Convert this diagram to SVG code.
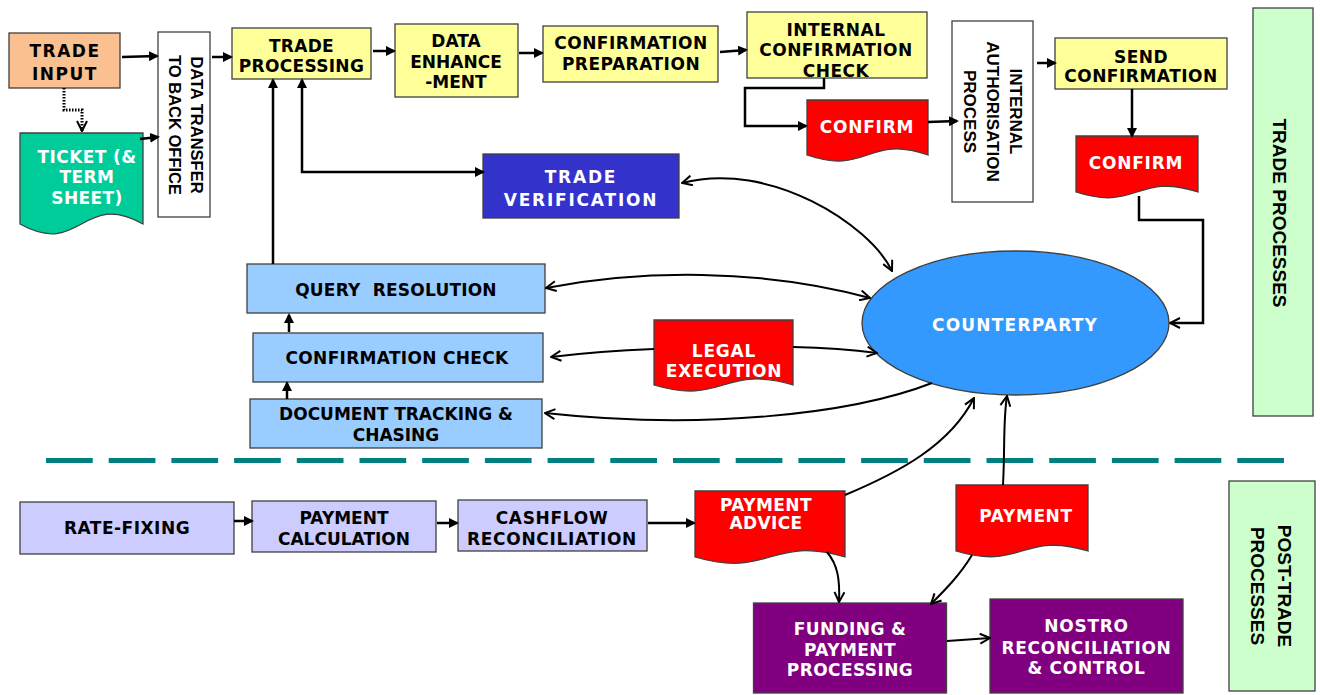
<svg xmlns="http://www.w3.org/2000/svg" width="1320" height="695" viewBox="0 0 1320 695">
<style>
.box{stroke:#404040;stroke-width:1.3}
.t{font-family:"DejaVu Sans",Verdana,sans-serif;font-weight:bold;font-size:17px;text-anchor:middle;fill:#000}
.w{fill:#fff}
.v{font-family:"Liberation Sans",Arial,sans-serif;font-weight:bold;text-anchor:middle;dominant-baseline:central;fill:#000}
.c{fill:none;stroke:#000;stroke-width:2.5}
.cv{fill:none;stroke:#000;stroke-width:2}
</style>
<defs>
<marker id="f" viewBox="0 0 10 10" refX="8" refY="5" markerWidth="10" markerHeight="10" markerUnits="userSpaceOnUse" orient="auto-start-reverse"><path d="M0,0 L10,5 L0,10 z" fill="#000"/></marker>
<marker id="o" viewBox="0 0 12 12" refX="11" refY="6" markerWidth="12" markerHeight="12" markerUnits="userSpaceOnUse" orient="auto-start-reverse"><path d="M1,1 L11,6 L1,11" fill="none" stroke="#000" stroke-width="2"/></marker>
</defs>
<rect width="1320" height="695" fill="#fff"/>

<g id="divider"><line x1="46" y1="460.5" x2="1284" y2="460.5" stroke="#008080" stroke-width="5" stroke-dasharray="46.7 16"/></g>

<g id="trade-input"><rect class="box" x="9" y="33" width="111" height="55" fill="#FAC08F"/>
<text class="t" x="65" y="57" font-size="21" letter-spacing="1.5">TRADE</text><text class="t" x="65" y="80" font-size="21" letter-spacing="1.5">INPUT</text></g>

<g id="ticket"><path class="box" d="M20,133 H143 V224 C81.5,190 81.5,258 20,224 Z" fill="#00CC99"/>
<text class="t w" x="87" y="163" letter-spacing="0.4">TICKET (&amp;</text><text class="t w" x="87" y="183" letter-spacing="0.4">TERM</text><text class="t w" x="87" y="204" letter-spacing="0.4">SHEET)</text></g>

<g id="data-transfer"><rect class="box" x="158" y="32" width="52" height="185" fill="#fff"/>
<text class="v" font-size="16.5" transform="translate(196.5,125) rotate(90)">DATA TRANSFER</text>
<text class="v" font-size="16.5" transform="translate(174.5,125) rotate(90)">TO BACK OFFICE</text></g>

<g id="trade-processing"><rect class="box" x="232" y="28" width="139" height="51" fill="#FFFF99"/>
<text class="t" x="301.5" y="52" letter-spacing="0.3">TRADE</text><text class="t" x="301.5" y="72" letter-spacing="0.3">PROCESSING</text></g>

<g id="data-enhancement"><rect class="box" x="395" y="24" width="123" height="73" fill="#FFFF99"/>
<text class="t" x="456" y="47">DATA</text><text class="t" x="456" y="68">ENHANCE</text><text class="t" x="456" y="88">-MENT</text></g>

<g id="confirmation-preparation"><rect class="box" x="543" y="26" width="175" height="56" fill="#FFFF99"/>
<text class="t" x="631" y="49" letter-spacing="0.5">CONFIRMATION</text><text class="t" x="631" y="70" letter-spacing="0.5">PREPARATION</text></g>

<g id="internal-confirmation-check"><rect class="box" x="747" y="12" width="180" height="66" fill="#FFFF99"/>
<text class="t" x="836" y="36" letter-spacing="0.5">INTERNAL</text><text class="t" x="836" y="56" letter-spacing="0.5">CONFIRMATION</text><text class="t" x="836" y="77" letter-spacing="0.5">CHECK</text></g>

<g id="confirm-1"><path class="box" d="M807,100 H928 V155 C867.5,134 867.5,176 807,155 Z" fill="#FF0000"/>
<text class="t w" x="867" y="133" letter-spacing="0.8">CONFIRM</text></g>

<g id="internal-authorisation"><rect class="box" x="952" y="21" width="81" height="181" fill="#fff"/>
<text class="v" font-size="17" transform="translate(1015,111.5) rotate(90)">INTERNAL</text>
<text class="v" font-size="17" transform="translate(992,111.5) rotate(90)">AUTHORISATION</text>
<text class="v" font-size="17" transform="translate(969.5,111.5) rotate(90)">PROCESS</text></g>

<g id="send-confirmation"><rect class="box" x="1055" y="38" width="172" height="51" fill="#FFFF99"/>
<text class="t" x="1141" y="63" letter-spacing="0.5">SEND</text><text class="t" x="1141" y="82" letter-spacing="0.5">CONFIRMATION</text></g>

<g id="confirm-2"><path class="box" d="M1076,136 H1198 V192 C1137,172 1137,212 1076,192 Z" fill="#FF0000"/>
<text class="t w" x="1136" y="169" letter-spacing="0.8">CONFIRM</text></g>

<g id="trade-processes-panel"><rect class="box" x="1253" y="8" width="60" height="408" fill="#CCFFCC"/>
<text class="v" font-size="19" transform="translate(1279,213) rotate(90)">TRADE PROCESSES</text></g>

<g id="trade-verification"><rect class="box" x="483" y="154" width="196" height="64" fill="#3333CC"/>
<text class="t w" x="581" y="183" letter-spacing="1.8">TRADE</text><text class="t w" x="581" y="206" letter-spacing="1.8">VERIFICATION</text></g>

<g id="query-resolution"><rect class="box" x="247" y="264" width="298" height="49" fill="#99CCFF"/>
<text class="t" x="396" y="296" letter-spacing="0.2" style="white-space:pre">QUERY  RESOLUTION</text></g>

<g id="confirmation-check"><rect class="box" x="253" y="333" width="290" height="49" fill="#99CCFF"/>
<text class="t" x="397" y="364" letter-spacing="0.3">CONFIRMATION CHECK</text></g>

<g id="document-tracking"><rect class="box" x="250" y="399" width="292" height="49" fill="#99CCFF"/>
<text class="t" x="396" y="420">DOCUMENT TRACKING &amp;</text><text class="t" x="396" y="441">CHASING</text></g>

<g id="legal-execution"><path class="box" d="M654,320 H793 V385 C723.5,364 723.5,406 654,385 Z" fill="#FF0000"/>
<text class="t w" x="724" y="357" font-size="16" letter-spacing="0.8">LEGAL</text><text class="t w" x="724" y="377" font-size="16" letter-spacing="0.8">EXECUTION</text></g>

<g id="counterparty"><ellipse class="box" cx="1015.5" cy="323" rx="153.5" ry="72" fill="#3399FF"/>
<text class="t w" x="1015" y="331" font-size="19" letter-spacing="1.2">COUNTERPARTY</text></g>

<g id="rate-fixing"><rect class="box" x="20" y="502" width="214" height="52" fill="#CCCCFF"/>
<text class="t" x="127" y="534" letter-spacing="0.5">RATE-FIXING</text></g>

<g id="payment-calculation"><rect class="box" x="252" y="501" width="184" height="51" fill="#CCCCFF"/>
<text class="t" x="344" y="524">PAYMENT</text><text class="t" x="344" y="545">CALCULATION</text></g>

<g id="cashflow-reconciliation"><rect class="box" x="458" y="500" width="189" height="51" fill="#CCCCFF"/>
<text class="t" x="552" y="524" letter-spacing="0.7">CASHFLOW</text><text class="t" x="552" y="545" letter-spacing="0.7">RECONCILIATION</text></g>

<g id="payment-advice"><path class="box" d="M695,491 H845 V557 C770,535 770,579 695,557 Z" fill="#FF0000"/>
<text class="t w" x="766" y="511" font-size="15" letter-spacing="0.4">PAYMENT</text><text class="t w" x="766" y="529" font-size="15" letter-spacing="0.4">ADVICE</text></g>

<g id="payment"><path class="box" d="M956,485 H1088 V551 C1022,531 1022,571 956,551 Z" fill="#FF0000"/>
<text class="t w" x="1026" y="522" font-size="16.5" letter-spacing="0.6">PAYMENT</text></g>

<g id="funding"><rect class="box" x="753.5" y="603" width="193" height="90" fill="#800080"/>
<text class="t w" x="850" y="635" letter-spacing="0.4">FUNDING &amp;</text><text class="t w" x="850" y="656" letter-spacing="0.4">PAYMENT</text><text class="t w" x="850" y="676" letter-spacing="0.4">PROCESSING</text></g>

<g id="nostro"><rect class="box" x="990" y="599" width="193" height="94" fill="#800080"/>
<text class="t w" x="1086.5" y="632" letter-spacing="0.7">NOSTRO</text><text class="t w" x="1086.5" y="654" letter-spacing="0.7">RECONCILIATION</text><text class="t w" x="1086.5" y="674" letter-spacing="0.7">&amp; CONTROL</text></g>

<g id="post-trade-panel"><rect class="box" x="1229" y="481" width="86" height="210" fill="#CCFFCC"/>
<text class="v" font-size="19" transform="translate(1284,586) rotate(90)">POST-TRADE</text>
<text class="v" font-size="19" transform="translate(1257,586) rotate(90)">PROCESSES</text></g>

<g id="connectors">
<path class="c" d="M122,57 L157,56" marker-end="url(#f)"/>
<path d="M64,88 V110 H82 V131" fill="none" stroke="#000" stroke-width="3" stroke-dasharray="1.5 1.5" marker-end="url(#o)"/>
<path class="c" d="M140,139 L158,137" marker-end="url(#f)"/>
<path class="c" d="M212,57 L231,57" marker-end="url(#f)"/>
<path class="c" d="M373,51 L394,51" marker-end="url(#f)"/>
<path class="c" d="M519,53 L542,53" marker-end="url(#f)"/>
<path class="c" d="M720,52 L746,50" marker-end="url(#f)"/>
<path class="c" d="M824,78 V88 H745 V126 H806" marker-end="url(#f)"/>
<path class="c" d="M928,122 L957,121" marker-end="url(#f)"/>
<path class="c" d="M1037,63 L1055,63" marker-end="url(#f)"/>
<path class="c" d="M1132,89 L1132,136" marker-end="url(#f)"/>
<path class="c" d="M1139,196 V220 H1203 V323 H1170" marker-end="url(#o)"/>
<path class="c" d="M302,80 V172 H483" marker-start="url(#f)" marker-end="url(#f)"/>
<path class="c" d="M273,264 V80" marker-end="url(#f)"/>
<path class="c" d="M289,332 V315" marker-end="url(#f)"/>
<path class="c" d="M287,399 V383" marker-end="url(#f)"/>
<path class="cv" d="M682,183 C770,160 870,225 892,271" marker-start="url(#o)" marker-end="url(#o)"/>
<path class="cv" d="M546,288 C640,270 760,268 870,298" marker-start="url(#o)" marker-end="url(#o)"/>
<path class="cv" d="M654,349 Q600,351 551,357" marker-end="url(#o)"/>
<path class="cv" d="M793,347 Q840,348 877,353" marker-end="url(#o)"/>
<path class="cv" d="M932,383 C850,415 700,430 545,413" marker-end="url(#o)"/>
<path class="cv" d="M845,495 C900,472 950,445 974,398" marker-end="url(#o)"/>
<path class="cv" d="M1003,485 C1005,450 1003,420 1007,396" marker-end="url(#o)"/>
<path class="c" d="M234,521 L252,521" marker-end="url(#f)"/>
<path class="c" d="M437,523 L457,523" marker-end="url(#f)"/>
<path class="c" d="M648,523 L694,523" marker-end="url(#f)"/>
<path class="cv" d="M827,552 C838,565 840,580 839,602" marker-end="url(#o)"/>
<path class="cv" d="M972,555 C960,575 945,590 931,604" marker-end="url(#o)"/>
<path class="cv" d="M947,641 L990,638" marker-end="url(#o)"/>
</g>
</svg>
